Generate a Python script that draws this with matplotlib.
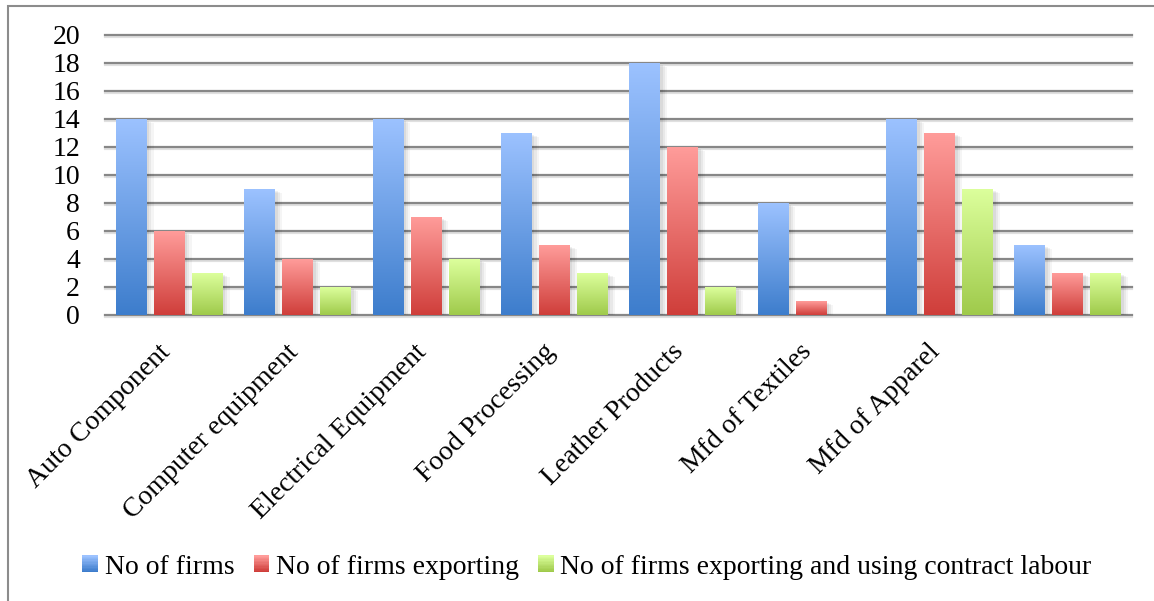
import numpy as np
import matplotlib
matplotlib.use("Agg")
import matplotlib.pyplot as plt
import matplotlib.patheffects as pe
from matplotlib.colors import LinearSegmentedColormap
from matplotlib.legend_handler import HandlerBase
from matplotlib.patches import Patch, Rectangle
from matplotlib.transforms import ScaledTranslation

sectors = ['Auto Component', 'Computer equipment', 'Electrical Equipment',
           'Food Processing', 'Leather Products', 'Mfd of Textiles',
           'Mfd of Apparel', '']
firms = [14, 9, 14, 13, 18, 8, 14, 5]
firms_exporting = [6, 4, 7, 5, 12, 1, 13, 3]
firms_contract = [3, 2, 4, 3, 2, 0, 9, 3]
series_names = ['No of firms', 'No of firms exporting',
                'No of firms exporting and using contract labour']

# (top, bottom) colours of each series gradient
gradients = [('#9cc2ff', '#3d7dcc'),
             ('#ff9c9a', '#cf3e3a'),
             ('#dcff9c', '#9fca4b')]

plt.rcParams['font.family'] = ['Liberation Serif', 'DejaVu Serif']
FS = 20


class GradientHandler(HandlerBase):
    def __init__(self, top, bottom, steps=12):
        super().__init__()
        self.cmap = LinearSegmentedColormap.from_list('g', [bottom, top])
        self.steps = steps

    def create_artists(self, legend, orig_handle, xdescent, ydescent,
                       width, height, fontsize, trans):
        arts = []
        h = height / self.steps
        for i in range(self.steps):
            r = Rectangle((-xdescent, -ydescent + i * h), width, h * 1.05,
                          facecolor=self.cmap(i / (self.steps - 1)),
                          linewidth=0, transform=trans)
            arts.append(r)
        return arts


fig = plt.figure(figsize=(11.54, 6.01), dpi=100)
ax = fig.add_axes([105 / 1154, 1 - 315 / 601, (1132 - 105) / 1154, 280 / 601])

# outer chart frame (only left and top edges fall inside the image)
fig.patches.append(Rectangle((8 / 1154, -0.2), 1.2, 1.2 - 6 / 601,
                             transform=fig.transFigure, fill=False,
                             edgecolor='#8c8c8c', linewidth=1.5))

x = np.arange(len(sectors)) + 0.5
width = 0.24
pitch = 0.296
shadow = [pe.SimplePatchShadow(offset=(o, -o * 0.6), shadow_rgbFace='#000000', alpha=a)
          for o, a in [(5, 0.04), (3.5, 0.05), (2, 0.06)]] + [pe.Normal()]

grad = np.linspace(1, 0, 256).reshape(-1, 1)
for k, vals in enumerate([firms, firms_exporting, firms_contract]):
    top, bottom = gradients[k]
    cmap = LinearSegmentedColormap.from_list('s%d' % k, [bottom, top])
    bars = ax.bar(x + (k - 1) * pitch, vals, width, color=bottom,
                  linewidth=0, zorder=3)
    for bar in bars:
        h = bar.get_height()
        if h <= 0:
            continue
        bar.set_path_effects(shadow)
        x0 = bar.get_x()
        im = ax.imshow(grad, extent=[x0, x0 + bar.get_width(), 0, h],
                       aspect='auto', cmap=cmap, vmin=0, vmax=1,
                       interpolation='bilinear', zorder=3.5)
        im.set_clip_path(bar)

ax.set_xlim(0, len(sectors))
ax.set_ylim(0, 20)
ax.set_yticks(range(0, 21, 2))
ax.set_xticks(x)
ax.set_xticklabels(sectors)
for s in ax.spines.values():
    s.set_visible(False)
ax.tick_params(axis='y', length=0, pad=18, labelsize=FS)
ax.tick_params(axis='x', length=0, pad=24, labelsize=FS)
shift = ScaledTranslation(-3 / 100, 0, fig.dpi_scale_trans)
for lab in ax.get_xticklabels():
    lab.set_rotation(45)
    lab.set_rotation_mode('anchor')
    lab.set_ha('right')
    lab.set_va('center')
    lab.set_transform(lab.get_transform() + shift)

ax.yaxis.grid(True, color='#878787', linewidth=1.6, zorder=1)
ax.set_axisbelow(True)
for gl in ax.get_ygridlines():
    gl.set_clip_on(False)
    gl.set_path_effects([pe.SimpleLineShadow(offset=(0, -1.5), shadow_color='#000000',
                                             alpha=0.12), pe.Normal()])

handles = [Patch(label=n) for n in series_names]
hmap = {h: GradientHandler(*gradients[i]) for i, h in enumerate(handles)}
fig.legend(handles=handles, loc='center', bbox_to_anchor=(587 / 1154, 1 - 567 / 601),
           ncol=3, frameon=False, fontsize=FS, handler_map=hmap,
           handlelength=0.55, handleheight=0.55, handletextpad=0.25,
           columnspacing=0.7, borderpad=0)

fig.savefig('out.png', dpi=100)
